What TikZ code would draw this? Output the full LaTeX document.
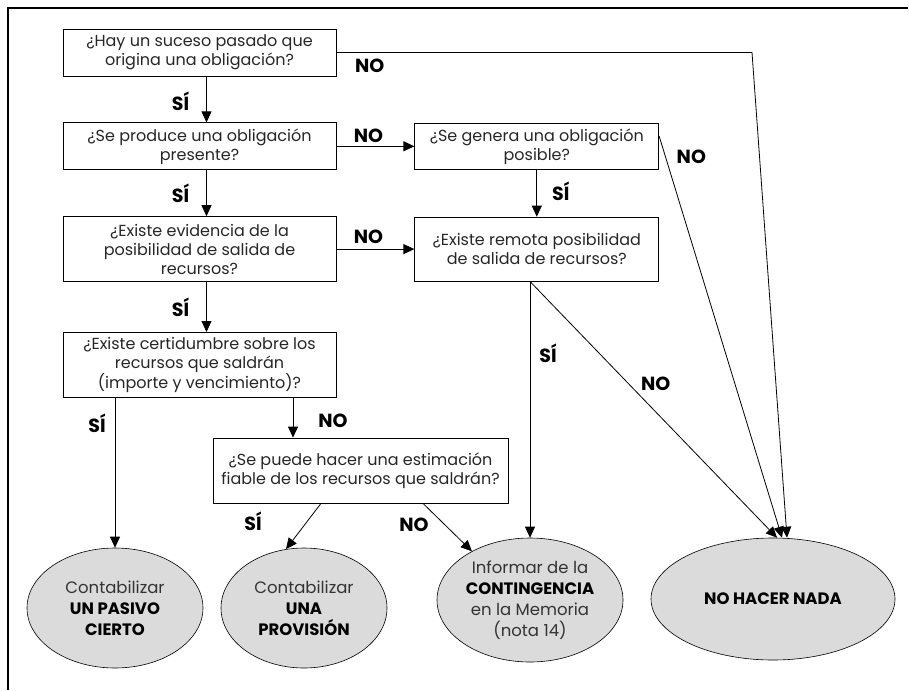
\documentclass[tikz,border=0pt]{standalone}
\usepackage{fontspec}
\setmainfont{Poppins}
\usepackage{tikz}
\usetikzlibrary{shapes.geometric,positioning,arrows.meta,calc}

\newcommand{\boxfont}{\fontsize{16}{19}\selectfont}
\newcommand{\ovalfont}{\fontsize{16.5}{21}\selectfont}
\newcommand{\labfont}{\fontsize{19}{20}\selectfont\bfseries}

\begin{document}
\begin{tikzpicture}[x=1pt,y=-1pt,
    question/.style={rectangle,draw,line width=0.8pt,align=center,
		inner sep=2pt,minimum width=273pt,minimum height=47pt,
		font=\boxfont,text=black!85},
    outcome/.style={ellipse,draw,line width=0.6pt,fill=black!14,align=center,
		inner sep=0pt,font=\ovalfont,text=black!80},
% Labels on the connectors
    lbl/.style={font=\labfont,text=black,inner sep=1pt},
    flow/.style={line width=0.8pt,->,>={Triangle[length=11pt,width=10pt]}},
    frame/.style={line width=1.8pt}
    ]
\useasboundingbox (0,0) rectangle (909,690);
\draw [frame] (8,690) -- (8,8) -- (908,8);

% Left column
\node [question] (q1) at (199.5,52.5) {¿Hay un suceso pasado que\\origina una obligación?};
\node [question,below=46pt of q1] (q2) {¿Se produce una obligación\\presente?};
\node [question,below=46pt of q2,minimum height=65pt] (q3) {¿Existe evidencia de la\\posibilidad de salida de\\recursos?};
\node [question,below=50pt of q3,minimum height=65pt] (q4) {¿Existe certidumbre sobre los\\recursos que saldrán\\(importe y vencimiento)?};

% Right column
\node [question,right=78pt of q2,minimum width=244pt,minimum height=46pt] (g1) {¿Se genera una obligación\\posible?};
\node [question,right=78pt of q3,minimum width=244pt,minimum height=64pt] (r1) {¿Existe remota posibilidad\\de salida de recursos?};
\node [question,minimum width=295pt,minimum height=65pt] (q5) at (360.5,470.5) {¿Se puede hacer una estimación\\fiable de los recursos que saldrán?};

% Outcomes
\node [outcome,minimum width=176pt,minimum height=120pt] (e1) at (115,608) {Contabilizar\\\textbf{\color{black}UN PASIVO}\\\textbf{\color{black}CIERTO}};
\node [outcome,minimum width=166pt,minimum height=120pt] (e2) at (304,608) {Contabilizar\\\textbf{\color{black}UNA}\\\textbf{\color{black}PROVISIÓN}};
\node [outcome,minimum width=186pt,minimum height=124pt] (e3) at (530,600) {Informar de la\\\textbf{\color{black}CONTINGENCIA}\\en la Memoria\\(nota 14)};
\node [outcome,minimum width=244pt,minimum height=122pt] (e4) at (773,599) {\textbf{\color{black}NO HACER NADA}};

\coordinate (bend) at (752,52.5);

\draw [flow] ([xshift=7pt]q1.south) -- node [lbl,pos=.55,xshift=-26pt] (s1) {SÍ} ([xshift=7pt]q2.north);
\draw [flow] ([xshift=7pt]q2.south) -- node [lbl,pos=.5,xshift=-26pt] (s2) {SÍ} ([xshift=7pt]q3.north);
\draw [flow] ([xshift=7pt]q3.south) -- node [lbl,pos=.5,xshift=-26pt] (s3) {SÍ} ([xshift=7pt]q4.north);
\draw [flow] (q2.east) -- node [lbl,pos=.41,above=2pt] (n2) {NO} (g1.west);
\draw [flow] (q3.east) -- node [lbl,pos=.41,above=4pt] (n3) {NO} (r1.west);
\draw [flow] (g1.south) -- node [lbl,pos=.45,xshift=24pt] (s4) {SÍ} (r1.north);
\draw [flow] (q1.east) -- node [lbl,pos=.08,below=5pt] (n1) {NO} (bend) -- ([xshift=14pt]e4.north);
\draw [flow] ([yshift=10pt]g1.east) -- node [lbl,pos=.05,xshift=26pt] (n4) {NO} ([xshift=9pt]e4.north);
\draw [flow] (r1.south -| e3.north) -- node [lbl,pos=.28,xshift=18pt] (s5) {SÍ} (e3.north);
\draw [flow] (r1.south -| e3.north) -- node [lbl,pos=.4,xshift=27pt] (n5) {NO} ([xshift=4pt]e4.north);
\draw [flow] (q4.south -| e1.north) -- node [lbl,pos=.17,xshift=-18pt] (s6) {SÍ} (e1.north);
\draw [flow] ([xshift=93.5pt]q4.south) -- node [lbl,pos=.58,xshift=40pt] (n6) {NO} ([xshift=93.5pt]q4.south |- q5.north);
\draw [flow] ([xshift=-39.5pt]q5.south) -- node [lbl,pos=.4,xshift=-54pt] (s7) {SÍ} (e2.107);
\draw [flow] ([xshift=62.5pt]q5.south) -- node [lbl,pos=.45,xshift=-31pt] (n7) {NO} (e3.140);
\end{tikzpicture}
\end{document}
